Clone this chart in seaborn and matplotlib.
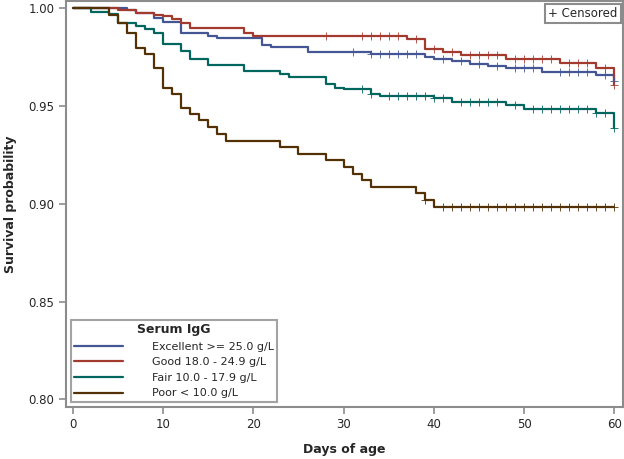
import numpy as np
import pandas as pd
import matplotlib
matplotlib.use("Agg")
import matplotlib.pyplot as plt
from matplotlib.lines import Line2D
import seaborn as sns

groups = ["Excellent >= 25.0 g/L", "Good 18.0 - 24.9 g/L", "Fair 10.0 - 17.9 g/L", "Poor < 10.0 g/L"]
colors = ["#445694", "#A23A2E", "#01665E", "#543005"]

excellent_t = [0, 6, 7, 9, 10, 12, 15, 16, 21, 22, 26, 33, 39, 40, 42, 44, 46, 48, 52, 58, 60]
excellent_s = [1.0, 0.9991, 0.9974, 0.9949, 0.9928, 0.9875, 0.9860, 0.9847, 0.9812, 0.9801, 0.9777, 0.9765, 0.9752, 0.9739, 0.9728, 0.9713, 0.9703, 0.9692, 0.9676, 0.9659, 0.9628]
excellent_c = [31, 33, 34, 35, 36, 37, 38, 41, 43, 45, 47, 49, 50, 51, 54, 55, 56, 57, 59, 60]

good_t = [0, 5, 7, 9, 10, 11, 12, 13, 19, 20, 37, 39, 41, 43, 48, 54, 58, 60]
good_s = [1.0, 0.9989, 0.9978, 0.9968, 0.9958, 0.9947, 0.9926, 0.9900, 0.9875, 0.9860, 0.9843, 0.9790, 0.9775, 0.9760, 0.9741, 0.9722, 0.9696, 0.9608]
good_c = [28, 32, 33, 34, 35, 36, 38, 40, 42, 44, 45, 46, 47, 49, 50, 51, 52, 53, 55, 56, 57, 59, 60]

fair_t = [0, 2, 4, 5, 7, 8, 9, 10, 12, 13, 15, 19, 23, 24, 28, 29, 30, 33, 34, 40, 42, 48, 50, 58, 60]
fair_s = [1.0, 0.9983, 0.9971, 0.9923, 0.9911, 0.9893, 0.9872, 0.9815, 0.9781, 0.9741, 0.9710, 0.9678, 0.9663, 0.9646, 0.9613, 0.9593, 0.9586, 0.9564, 0.9549, 0.9539, 0.9523, 0.9503, 0.9485, 0.9463, 0.9386]
fair_c = [32, 33, 35, 36, 37, 38, 39, 40, 41, 43, 44, 45, 46, 47, 49, 51, 52, 53, 54, 55, 56, 57, 58, 59, 60]

poor_t = [0, 4, 5, 6, 7, 8, 9, 10, 11, 12, 13, 14, 15, 16, 17, 23, 25, 28, 30, 31, 32, 33, 38, 39, 40, 60]
poor_s = [1.0, 0.9966, 0.9926, 0.9872, 0.9796, 0.9764, 0.9693, 0.9594, 0.9562, 0.9489, 0.9461, 0.9431, 0.9391, 0.9357, 0.9322, 0.9291, 0.9255, 0.9222, 0.9189, 0.9154, 0.9121, 0.9088, 0.9054, 0.9020, 0.8984, 0.8984]
poor_c = [39, 41, 42, 43, 44, 45, 46, 47, 48, 49, 50, 51, 52, 53, 54, 55, 56, 57, 58, 59, 60]

times = [excellent_t, good_t, fair_t, poor_t]
survs = [excellent_s, good_s, fair_s, poor_s]
cens = [excellent_c, good_c, fair_c, poor_c]

rows, crow = [], []
for g, t, s, c in zip(groups, times, survs, cens):
    for ti, si in zip(t, s):
        rows.append((g, ti, si))
    t_arr = np.array(t); s_arr = np.array(s)
    for ci in c:
        idx = np.searchsorted(t_arr, ci, side="right") - 1
        crow.append((g, ci, s_arr[idx]))
df = pd.DataFrame(rows, columns=["group", "day", "surv"])
dfc = pd.DataFrame(crow, columns=["group", "day", "surv"])

sns.set_style("white")
plt.rcParams["font.family"] = ["DejaVu Sans"]

fig = plt.figure(figsize=(6.24, 4.59), dpi=100)
ax = fig.add_axes([0.1053, 0.1139, 0.8927, 0.8839])

pal = dict(zip(groups, colors))
sns.lineplot(data=df, x="day", y="surv", hue="group", palette=pal, drawstyle="steps-post",
             estimator=None, sort=False, linewidth=1.6, legend=False, ax=ax)
for g in groups:
    sub = dfc[dfc.group == g]
    ax.scatter(sub.day, sub.surv, marker="+", s=28, color=pal[g], linewidths=0.7, zorder=3, alpha=0.85)

ax.set_xlim(-0.8, 60.94)
ax.set_ylim(0.7963, 1.0037)
ax.set_xticks([0, 10, 20, 30, 40, 50, 60])
ax.set_yticks([0.80, 0.85, 0.90, 0.95, 1.00])
ax.set_yticklabels(["0.80", "0.85", "0.90", "0.95", "1.00"])
ax.tick_params(axis="both", which="major", length=5, width=1.2, color="#8c8c8c",
               labelsize=8.5, direction="out", bottom=True, left=True, pad=3)
for sp in ax.spines.values():
    sp.set_color("#8c8c8c")
    sp.set_linewidth(1.5)
ax.set_xlabel("Days of age", fontsize=9, fontweight="bold", labelpad=9)
ax.set_ylabel("Survival probability", fontsize=9, fontweight="bold", labelpad=8)

handles = [Line2D([0], [0], color=c, lw=1.6) for c in colors]
leg = ax.legend(handles, groups, title="Serum IgG", loc="lower left",
                bbox_to_anchor=(0.0095, 0.0123), borderaxespad=0, frameon=True,
                fancybox=False, fontsize=8, title_fontproperties={"weight": "bold", "size": 9},
                handlelength=4.4, handletextpad=2.6, labelspacing=0.5, borderpad=0.3)
leg.get_frame().set_edgecolor("#8c8c8c")
leg.get_frame().set_linewidth(1.5)

ax.text(0.991, 0.985, "+ Censored", transform=ax.transAxes, ha="right", va="top", fontsize=8.5,
        bbox=dict(boxstyle="square,pad=0.25", fc="white", ec="#8c8c8c", lw=1.5))

fig.savefig("out.png", dpi=100)
